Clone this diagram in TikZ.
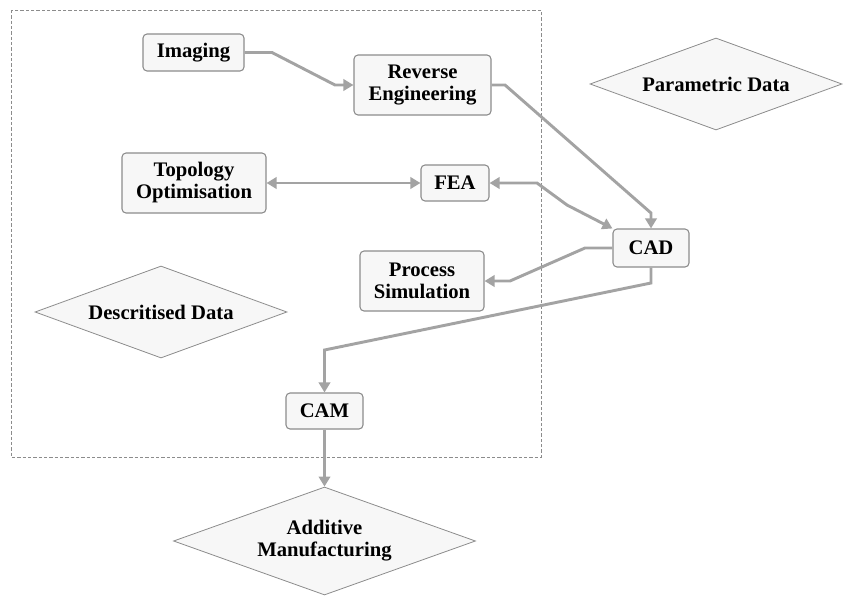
\documentclass[tikz,border=0pt]{standalone}
\usepackage{fontspec}
\setmainfont{Liberation Serif}
\usetikzlibrary{arrows.meta,shapes.geometric,positioning}

\definecolor{boxfill}{HTML}{F7F7F7}
\definecolor{boxline}{HTML}{8C8C8C}
\definecolor{flowgray}{HTML}{A3A3A3}

\begin{document}
\begin{tikzpicture}[x=0.75pt, y=-0.75pt,
  every node/.style={font=\fontsize{15.5}{16.5}\selectfont\bfseries, align=center},
  procbox/.style={draw=boxline, fill=boxfill, line width=0.8pt, rounded corners=3pt, inner sep=0pt},
  datashape/.style={diamond, draw=boxline, fill=boxfill, line width=0.6pt, inner sep=0pt, aspect=2.75},
  flow/.style={draw=flowgray, line width=2.2pt, -{Triangle[length=7.5pt,width=8.5pt]}},
  twoflow/.style={flow, {Triangle[length=7.5pt,width=8.5pt]}-{Triangle[length=7.5pt,width=8.5pt]}}]
  % Define dimensions
  \useasboundingbox (0,0) rectangle (843,596);

  % Draw frame
  \draw[boxline, line width=0.6pt, dash pattern=on 2.5pt off 1.5pt] (11,10) rectangle (541,457);

  % Process boxes
  \node[procbox, minimum width=75.75pt, minimum height=27.75pt] (img) at (193.5,52.5) {Imaging};
  \node[procbox, minimum width=102.75pt, minimum height=45pt] (re) at (422.5,85) {Reverse\\Engineering};
  \node[procbox, minimum width=108pt, minimum height=45pt] (topo) at (194,183) {Topology\\Optimisation};
  \node[procbox, minimum width=51pt, minimum height=27pt] (fea) at (455,183) {FEA};
  \node[procbox, minimum width=57pt, minimum height=28.5pt] (cad) at (651,248) {CAD};
  \node[procbox, minimum width=93pt, minimum height=45pt] (ps) at (422,281) {Process\\Simulation};
  \node[procbox, minimum width=57.75pt, minimum height=27pt] (cam) at (324.5,411) {CAM};

  % Data diamonds
  \node[datashape, minimum width=189pt, minimum height=69pt] (param) at (716,84) {Parametric Data};
  \node[datashape, minimum width=189pt, minimum height=69pt] (disc) at (161,312) {Descritised Data};
  \node[datashape, minimum width=226.5pt, minimum height=81pt] (am) at (324.5,541) {Additive\\Manufacturing};

  % Draw connectors
  \draw[flow] (img.east) -- (272,52.5) -- (335,85) -- (re.west);
  \draw[flow] (re.east) -- (505,85) -- (651,213) -- (cad.north);
  \draw[twoflow] (topo.east) -- (fea.west);
  \draw[twoflow] (fea.east) -- (537,183) -- (567,205) -- (cad.north west);
  \draw[flow] (cad.west) -- (585,248) -- (510,281) -- (ps.east);
  \draw[flow] (cad.south) -- (651,283) -- (324.5,350) -- (cam.north);
  \draw[flow] (cam.south) -- (am.north);

\end{tikzpicture}
\end{document}
